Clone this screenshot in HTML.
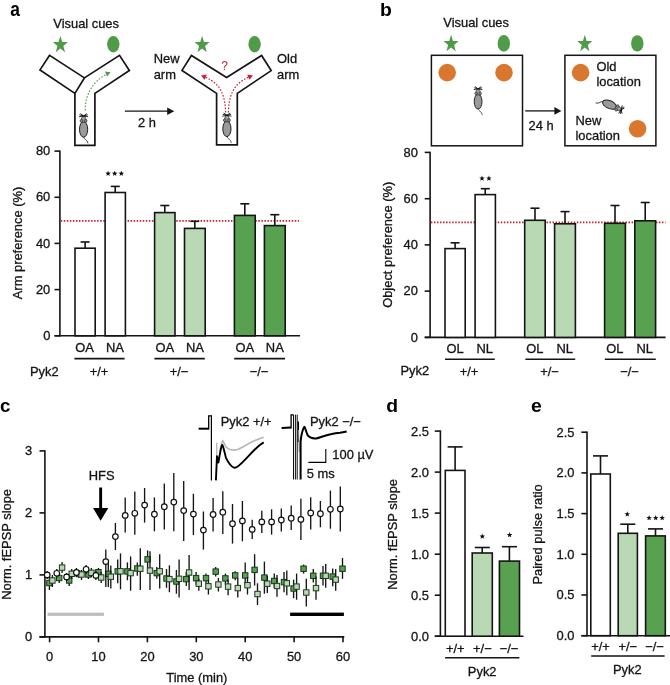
<!DOCTYPE html>
<html><head><meta charset="utf-8"><title>Figure</title>
<style>
html,body{margin:0;padding:0;background:#fff;}
body{width:670px;height:685px;overflow:hidden;}
svg{display:block;}
svg text{font-family:"Liberation Sans",sans-serif;stroke-width:0.3px;paint-order:stroke;}
</style></head><body>
<svg width="670" height="685" viewBox="0 0 670 685">
<rect width="670" height="685" fill="#fff"/>
<g style="will-change:opacity">
<text transform="translate(10.2,16.0) scale(0.86,1)" font-size="20.3" font-weight="bold" fill="#000">a</text>
<text transform="translate(380.1,15.7) scale(1.095,1)" font-size="17.7" font-weight="bold" fill="#000">b</text>
<text transform="translate(0.1,411.7) scale(1.0,1)" font-size="18.8" font-weight="bold" fill="#000">c</text>
<text transform="translate(386.3,411.5) scale(1.095,1)" font-size="17.7" font-weight="bold" fill="#000">d</text>
<text transform="translate(531.0,412.1) scale(1.03,1)" font-size="18.9" font-weight="bold" fill="#000">e</text>
<text x="53.3" y="27.6" font-size="12.9" text-anchor="start" font-weight="normal" fill="#141414" stroke="#141414" >Visual cues</text>
<polygon points="60.40,35.70 62.26,41.92 67.91,42.06 63.41,46.04 65.04,52.35 60.40,48.58 55.76,52.35 57.39,46.04 52.89,42.06 58.54,41.92" fill="#4f9b48"/>
<ellipse cx="113.3" cy="44.2" rx="6.2" ry="8.2" fill="#4f9b48" stroke="none" stroke-width="0"/>
<polygon points="202.10,35.70 203.96,41.92 209.61,42.06 205.11,46.04 206.74,52.35 202.10,48.58 197.46,52.35 199.09,46.04 194.59,42.06 200.24,41.92" fill="#4f9b48"/>
<ellipse cx="254.6" cy="44.2" rx="6.2" ry="8.2" fill="#4f9b48" stroke="none" stroke-width="0"/>
<polygon points="49.6,55.3 40.0,69.9 74.9,93.4 84.4,77.9" fill="#fff" stroke="#141414" stroke-width="1.7" stroke-linejoin="miter"/>
<polyline points="84.4,77.9 119.5,55.3 129.4,70.5 94.9,93.4 94.9,145.4 74.9,145.4 74.9,93.4" fill="none" stroke="#141414" stroke-width="1.7" stroke-linejoin="miter"/>
<path d="M85.2,110.5 C85.2,95 92,82 106,74.5" fill="none" stroke="#4f9b48" stroke-width="1.1" stroke-dasharray="1.6,1.6"/>
<polygon points="110.6,72.2 105.0,71.6 107.2,76.4" fill="#4f9b48"/>
<g transform="translate(83.6,129.4) rotate(0) scale(1.0)">
<path d="M0,7.5 C0.6,10.5 3.4,9.5 4.4,14" fill="none" stroke="#333" stroke-width="0.9"/>
<ellipse cx="0" cy="0" rx="4.1" ry="7.8" fill="#9a9a9a" stroke="#1c1c1c" stroke-width="1.0"/>
<path d="M-2.6,-7 C-2.8,-10 -1.6,-13 0,-14.4 C1.6,-13 2.8,-10 2.6,-7 Z" fill="#9c9c9c" stroke="#2a2a2a" stroke-width="0.7"/>
<circle cx="-2.1" cy="-8.6" r="1.4" fill="#8a8a8a" stroke="#2a2a2a" stroke-width="0.6"/>
<circle cx="2.1" cy="-8.6" r="1.4" fill="#8a8a8a" stroke="#2a2a2a" stroke-width="0.6"/>
<path d="M0,-13.4 L-4.6,-12.6 M0,-13.4 L-4.2,-14.6 M0,-13.4 L-3.2,-15.8" stroke="#111" stroke-width="0.9" fill="none"/>
<path d="M0,-13.4 L4.6,-12.6 M0,-13.4 L4.2,-14.6 M0,-13.4 L3.2,-15.8" stroke="#111" stroke-width="0.9" fill="none"/>
</g>
<polygon points="191.4,55.5 182.0,70.4 216.6,93.4 216.6,144.8 237.3,144.8 237.3,93.4 271.2,70.6 261.6,55.5 226.6,77.4" fill="#fff" stroke="#141414" stroke-width="1.7" stroke-linejoin="miter"/>
<path d="M225.6,112.5 C225.2,96 221,84 205.5,77.3" fill="none" stroke="#c9202e" stroke-width="1.2" stroke-dasharray="1.6,1.6"/>
<path d="M228.4,112.5 C228.8,96 233,84 248.5,77.3" fill="none" stroke="#c9202e" stroke-width="1.2" stroke-dasharray="1.6,1.6"/>
<polygon points="201.0,75.4 206.8,74.6 204.6,79.8" fill="#c9202e"/>
<polygon points="253.0,75.4 247.2,74.6 249.4,79.8" fill="#c9202e"/>
<text x="224.6" y="70.2" font-size="12" text-anchor="middle" font-weight="normal" fill="#c9202e" stroke="#c9202e" style="stroke-width:0">?</text>
<g transform="translate(226.9,128.8) rotate(0) scale(1.0)">
<path d="M0,7.5 C0.6,10.5 3.4,9.5 4.4,14" fill="none" stroke="#333" stroke-width="0.9"/>
<ellipse cx="0" cy="0" rx="4.1" ry="7.8" fill="#9a9a9a" stroke="#1c1c1c" stroke-width="1.0"/>
<path d="M-2.6,-7 C-2.8,-10 -1.6,-13 0,-14.4 C1.6,-13 2.8,-10 2.6,-7 Z" fill="#9c9c9c" stroke="#2a2a2a" stroke-width="0.7"/>
<circle cx="-2.1" cy="-8.6" r="1.4" fill="#8a8a8a" stroke="#2a2a2a" stroke-width="0.6"/>
<circle cx="2.1" cy="-8.6" r="1.4" fill="#8a8a8a" stroke="#2a2a2a" stroke-width="0.6"/>
<path d="M0,-13.4 L-4.6,-12.6 M0,-13.4 L-4.2,-14.6 M0,-13.4 L-3.2,-15.8" stroke="#111" stroke-width="0.9" fill="none"/>
<path d="M0,-13.4 L4.6,-12.6 M0,-13.4 L4.2,-14.6 M0,-13.4 L3.2,-15.8" stroke="#111" stroke-width="0.9" fill="none"/>
</g>
<text x="153.7" y="62.9" font-size="12.9" text-anchor="start" font-weight="normal" fill="#141414" stroke="#141414" >New</text>
<text x="153.7" y="78.7" font-size="12.9" text-anchor="start" font-weight="normal" fill="#141414" stroke="#141414" >arm</text>
<text x="277.0" y="63.2" font-size="12.9" text-anchor="start" font-weight="normal" fill="#141414" stroke="#141414" >Old</text>
<text x="277.0" y="78.6" font-size="12.9" text-anchor="start" font-weight="normal" fill="#141414" stroke="#141414" >arm</text>
<line x1="124.9" y1="111.2" x2="168.5" y2="111.2" stroke="#141414" stroke-width="1.3" />
<polygon points="174.2,111.2 167.2,107.4 167.2,115.0" fill="#141414"/>
<text x="137.9" y="127.2" font-size="12.9" text-anchor="start" font-weight="normal" fill="#141414" stroke="#141414" >2 h</text>
<line x1="59.9" y1="150.4" x2="59.9" y2="336.5" stroke="#141414" stroke-width="1.6" />
<line x1="54.5" y1="335.8" x2="300.0" y2="335.8" stroke="#141414" stroke-width="1.6" />
<line x1="54.5" y1="335.8" x2="59.9" y2="335.8" stroke="#141414" stroke-width="1.6" />
<text x="50.3" y="339.9" font-size="12.9" text-anchor="end" font-weight="normal" fill="#141414" stroke="#141414" >0</text>
<line x1="54.5" y1="289.6" x2="59.9" y2="289.6" stroke="#141414" stroke-width="1.6" />
<text x="50.3" y="293.7" font-size="12.9" text-anchor="end" font-weight="normal" fill="#141414" stroke="#141414" >20</text>
<line x1="54.5" y1="243.4" x2="59.9" y2="243.4" stroke="#141414" stroke-width="1.6" />
<text x="50.3" y="247.5" font-size="12.9" text-anchor="end" font-weight="normal" fill="#141414" stroke="#141414" >40</text>
<line x1="54.5" y1="197.3" x2="59.9" y2="197.3" stroke="#141414" stroke-width="1.6" />
<text x="50.3" y="201.4" font-size="12.9" text-anchor="end" font-weight="normal" fill="#141414" stroke="#141414" >60</text>
<line x1="54.5" y1="151.1" x2="59.9" y2="151.1" stroke="#141414" stroke-width="1.6" />
<text x="50.3" y="155.2" font-size="12.9" text-anchor="end" font-weight="normal" fill="#141414" stroke="#141414" >80</text>
<line x1="60.699999999999996" y1="220.9" x2="299" y2="220.9" stroke="#c21f36" stroke-width="1.7" stroke-dasharray="1.5,1.54"/>
<line x1="85.1" y1="242.0" x2="85.1" y2="248.2" stroke="#141414" stroke-width="1.6" />
<line x1="80.6" y1="242.0" x2="89.6" y2="242.0" stroke="#141414" stroke-width="1.6" />
<rect x="75.0" y="248.2" width="20.2" height="87.6" fill="#fff" stroke="#141414" stroke-width="1.6"/>
<line x1="115.2" y1="186.4" x2="115.2" y2="192.5" stroke="#141414" stroke-width="1.6" />
<line x1="110.8" y1="186.4" x2="119.8" y2="186.4" stroke="#141414" stroke-width="1.6" />
<rect x="105.1" y="192.5" width="20.3" height="143.3" fill="#fff" stroke="#141414" stroke-width="1.6"/>
<line x1="164.8" y1="205.5" x2="164.8" y2="212.6" stroke="#141414" stroke-width="1.6" />
<line x1="160.3" y1="205.5" x2="169.3" y2="205.5" stroke="#141414" stroke-width="1.6" />
<rect x="154.6" y="212.6" width="20.4" height="123.2" fill="#b9d9b4" stroke="#141414" stroke-width="1.6"/>
<line x1="194.8" y1="221.3" x2="194.8" y2="228.4" stroke="#141414" stroke-width="1.6" />
<line x1="190.3" y1="221.3" x2="199.3" y2="221.3" stroke="#141414" stroke-width="1.6" />
<rect x="184.5" y="228.4" width="20.7" height="107.4" fill="#b9d9b4" stroke="#141414" stroke-width="1.6"/>
<line x1="244.8" y1="203.8" x2="244.8" y2="215.4" stroke="#141414" stroke-width="1.6" />
<line x1="240.3" y1="203.8" x2="249.3" y2="203.8" stroke="#141414" stroke-width="1.6" />
<rect x="234.4" y="215.4" width="20.8" height="120.4" fill="#58a150" stroke="#141414" stroke-width="1.6"/>
<line x1="274.8" y1="214.7" x2="274.8" y2="225.6" stroke="#141414" stroke-width="1.6" />
<line x1="270.3" y1="214.7" x2="279.3" y2="214.7" stroke="#141414" stroke-width="1.6" />
<rect x="264.4" y="225.6" width="20.8" height="110.2" fill="#58a150" stroke="#141414" stroke-width="1.6"/>
<polygon points="108.10,170.70 108.83,172.59 110.86,172.70 109.29,173.99 109.80,175.95 108.10,174.85 106.40,175.95 106.91,173.99 105.34,172.70 107.37,172.59" fill="#111"/>
<polygon points="114.70,170.70 115.43,172.59 117.46,172.70 115.89,173.99 116.40,175.95 114.70,174.85 113.00,175.95 113.51,173.99 111.94,172.70 113.97,172.59" fill="#111"/>
<polygon points="121.30,170.70 122.03,172.59 124.06,172.70 122.49,173.99 123.00,175.95 121.30,174.85 119.60,175.95 120.11,173.99 118.54,172.70 120.57,172.59" fill="#111"/>
<text x="84.6" y="352.1" font-size="12.9" text-anchor="middle" font-weight="normal" fill="#141414" stroke="#141414" >OA</text>
<text x="115.0" y="352.1" font-size="12.9" text-anchor="middle" font-weight="normal" fill="#141414" stroke="#141414" >NA</text>
<text x="164.8" y="352.1" font-size="12.9" text-anchor="middle" font-weight="normal" fill="#141414" stroke="#141414" >OA</text>
<text x="194.9" y="352.1" font-size="12.9" text-anchor="middle" font-weight="normal" fill="#141414" stroke="#141414" >NA</text>
<text x="244.8" y="352.1" font-size="12.9" text-anchor="middle" font-weight="normal" fill="#141414" stroke="#141414" >OA</text>
<text x="274.8" y="352.1" font-size="12.9" text-anchor="middle" font-weight="normal" fill="#141414" stroke="#141414" >NA</text>
<line x1="74.4" y1="358.6" x2="124.6" y2="358.6" stroke="#141414" stroke-width="1.6" />
<text x="99.0" y="376.4" font-size="12.9" text-anchor="middle" font-weight="normal" fill="#141414" stroke="#141414" >+/+</text>
<line x1="154.4" y1="358.6" x2="204.8" y2="358.6" stroke="#141414" stroke-width="1.6" />
<text x="179.1" y="376.4" font-size="12.9" text-anchor="middle" font-weight="normal" fill="#141414" stroke="#141414" >+/−</text>
<line x1="234.2" y1="358.6" x2="285.0" y2="358.6" stroke="#141414" stroke-width="1.6" />
<text x="259.1" y="376.4" font-size="12.9" text-anchor="middle" font-weight="normal" fill="#141414" stroke="#141414" >−/−</text>
<text x="29.9" y="375.6" font-size="12.9" text-anchor="start" font-weight="normal" fill="#141414" stroke="#141414" >Pyk2</text>
<text transform="translate(21.9,243.0) rotate(-90)" font-size="12.9" text-anchor="middle" fill="#141414" stroke="#141414">Arm preference (%)</text>
<text x="443.3" y="27.0" font-size="12.9" text-anchor="start" font-weight="normal" fill="#141414" stroke="#141414" >Visual cues</text>
<polygon points="451.10,34.70 452.96,40.92 458.61,41.06 454.11,45.04 455.74,51.35 451.10,47.58 446.46,51.35 448.09,45.04 443.59,41.06 449.24,40.92" fill="#4f9b48"/>
<ellipse cx="503.8" cy="43.4" rx="6.2" ry="8.35" fill="#4f9b48" stroke="none" stroke-width="0"/>
<polygon points="584.80,34.70 586.66,40.92 592.31,41.06 587.81,45.04 589.44,51.35 584.80,47.58 580.16,51.35 581.79,45.04 577.29,41.06 582.94,40.92" fill="#4f9b48"/>
<ellipse cx="637.3" cy="43.4" rx="6.2" ry="8.2" fill="#4f9b48" stroke="none" stroke-width="0"/>
<rect x="431.4" y="55.3" width="91.1" height="90.5" fill="#fff" stroke="#141414" stroke-width="1.5"/>
<rect x="564.9" y="55.3" width="91.0" height="90.5" fill="#fff" stroke="#141414" stroke-width="1.5"/>
<circle cx="447.2" cy="72.6" r="8.8" fill="#d9772f"/>
<circle cx="504.0" cy="72.6" r="8.8" fill="#d9772f"/>
<circle cx="580.6" cy="72.6" r="8.8" fill="#d9772f"/>
<circle cx="637.6" cy="128.8" r="8.8" fill="#d9772f"/>
<g transform="translate(478.1,101.6) rotate(0) scale(0.95)">
<path d="M0,7.5 C0.6,10.5 3.4,9.5 4.4,14" fill="none" stroke="#333" stroke-width="0.9"/>
<ellipse cx="0" cy="0" rx="4.1" ry="7.8" fill="#9a9a9a" stroke="#1c1c1c" stroke-width="1.0"/>
<path d="M-2.6,-7 C-2.8,-10 -1.6,-13 0,-14.4 C1.6,-13 2.8,-10 2.6,-7 Z" fill="#9c9c9c" stroke="#2a2a2a" stroke-width="0.7"/>
<circle cx="-2.1" cy="-8.6" r="1.4" fill="#8a8a8a" stroke="#2a2a2a" stroke-width="0.6"/>
<circle cx="2.1" cy="-8.6" r="1.4" fill="#8a8a8a" stroke="#2a2a2a" stroke-width="0.6"/>
<path d="M0,-13.4 L-4.6,-12.6 M0,-13.4 L-4.2,-14.6 M0,-13.4 L-3.2,-15.8" stroke="#111" stroke-width="0.9" fill="none"/>
<path d="M0,-13.4 L4.6,-12.6 M0,-13.4 L4.2,-14.6 M0,-13.4 L3.2,-15.8" stroke="#111" stroke-width="0.9" fill="none"/>
</g>
<g transform="translate(609.5,104.6) rotate(114) scale(0.95)">
<path d="M0,7.5 C0.6,10.5 3.4,9.5 4.4,14" fill="none" stroke="#333" stroke-width="0.9"/>
<ellipse cx="0" cy="0" rx="4.1" ry="7.8" fill="#9a9a9a" stroke="#1c1c1c" stroke-width="1.0"/>
<path d="M-2.6,-7 C-2.8,-10 -1.6,-13 0,-14.4 C1.6,-13 2.8,-10 2.6,-7 Z" fill="#9c9c9c" stroke="#2a2a2a" stroke-width="0.7"/>
<circle cx="-2.1" cy="-8.6" r="1.4" fill="#8a8a8a" stroke="#2a2a2a" stroke-width="0.6"/>
<circle cx="2.1" cy="-8.6" r="1.4" fill="#8a8a8a" stroke="#2a2a2a" stroke-width="0.6"/>
<path d="M0,-13.4 L-4.6,-12.6 M0,-13.4 L-4.2,-14.6 M0,-13.4 L-3.2,-15.8" stroke="#111" stroke-width="0.9" fill="none"/>
<path d="M0,-13.4 L4.6,-12.6 M0,-13.4 L4.2,-14.6 M0,-13.4 L3.2,-15.8" stroke="#111" stroke-width="0.9" fill="none"/>
</g>
<line x1="525.2" y1="110.9" x2="556.0" y2="110.9" stroke="#141414" stroke-width="1.3" />
<polygon points="561.4,110.9 554.4,107.1 554.4,114.7" fill="#141414"/>
<text x="528.6" y="129.6" font-size="12.9" text-anchor="start" font-weight="normal" fill="#141414" stroke="#141414" >24 h</text>
<text x="596.4" y="70.5" font-size="12.9" text-anchor="start" font-weight="normal" fill="#141414" stroke="#141414" >Old</text>
<text x="596.4" y="86.0" font-size="12.9" text-anchor="start" font-weight="normal" fill="#141414" stroke="#141414" >location</text>
<text x="575.5" y="124.9" font-size="12.9" text-anchor="start" font-weight="normal" fill="#141414" stroke="#141414" >New</text>
<text x="575.5" y="140.0" font-size="12.9" text-anchor="start" font-weight="normal" fill="#141414" stroke="#141414" >location</text>
<line x1="430.1" y1="151.7" x2="430.1" y2="338.1" stroke="#141414" stroke-width="1.6" />
<line x1="424.7" y1="337.4" x2="665.6" y2="337.4" stroke="#141414" stroke-width="1.6" />
<line x1="424.7" y1="337.4" x2="430.1" y2="337.4" stroke="#141414" stroke-width="1.6" />
<text x="417.9" y="341.5" font-size="12.9" text-anchor="end" font-weight="normal" fill="#141414" stroke="#141414" >0</text>
<line x1="424.7" y1="291.1" x2="430.1" y2="291.1" stroke="#141414" stroke-width="1.6" />
<text x="417.9" y="295.2" font-size="12.9" text-anchor="end" font-weight="normal" fill="#141414" stroke="#141414" >20</text>
<line x1="424.7" y1="244.9" x2="430.1" y2="244.9" stroke="#141414" stroke-width="1.6" />
<text x="417.9" y="249.0" font-size="12.9" text-anchor="end" font-weight="normal" fill="#141414" stroke="#141414" >40</text>
<line x1="424.7" y1="198.7" x2="430.1" y2="198.7" stroke="#141414" stroke-width="1.6" />
<text x="417.9" y="202.8" font-size="12.9" text-anchor="end" font-weight="normal" fill="#141414" stroke="#141414" >60</text>
<line x1="424.7" y1="152.4" x2="430.1" y2="152.4" stroke="#141414" stroke-width="1.6" />
<text x="417.9" y="156.5" font-size="12.9" text-anchor="end" font-weight="normal" fill="#141414" stroke="#141414" >80</text>
<line x1="430.90000000000003" y1="222.3" x2="665.5" y2="222.3" stroke="#c21f36" stroke-width="1.7" stroke-dasharray="1.5,1.54"/>
<line x1="455.1" y1="242.8" x2="455.1" y2="248.6" stroke="#141414" stroke-width="1.6" />
<line x1="450.6" y1="242.8" x2="459.6" y2="242.8" stroke="#141414" stroke-width="1.6" />
<rect x="445.0" y="248.6" width="20.2" height="88.8" fill="#fff" stroke="#141414" stroke-width="1.6"/>
<line x1="485.2" y1="188.7" x2="485.2" y2="194.6" stroke="#141414" stroke-width="1.6" />
<line x1="480.8" y1="188.7" x2="489.8" y2="188.7" stroke="#141414" stroke-width="1.6" />
<rect x="475.1" y="194.6" width="20.3" height="142.8" fill="#fff" stroke="#141414" stroke-width="1.6"/>
<line x1="535.0" y1="208.2" x2="535.0" y2="220.3" stroke="#141414" stroke-width="1.6" />
<line x1="530.5" y1="208.2" x2="539.5" y2="208.2" stroke="#141414" stroke-width="1.6" />
<rect x="524.7" y="220.3" width="20.5" height="117.1" fill="#b9d9b4" stroke="#141414" stroke-width="1.6"/>
<line x1="565.0" y1="211.6" x2="565.0" y2="223.8" stroke="#141414" stroke-width="1.6" />
<line x1="560.5" y1="211.6" x2="569.5" y2="211.6" stroke="#141414" stroke-width="1.6" />
<rect x="554.6" y="223.8" width="20.8" height="113.6" fill="#b9d9b4" stroke="#141414" stroke-width="1.6"/>
<line x1="615.0" y1="205.5" x2="615.0" y2="223.3" stroke="#141414" stroke-width="1.6" />
<line x1="610.5" y1="205.5" x2="619.5" y2="205.5" stroke="#141414" stroke-width="1.6" />
<rect x="604.6" y="223.3" width="20.8" height="114.1" fill="#58a150" stroke="#141414" stroke-width="1.6"/>
<line x1="645.2" y1="202.5" x2="645.2" y2="220.8" stroke="#141414" stroke-width="1.6" />
<line x1="640.7" y1="202.5" x2="649.7" y2="202.5" stroke="#141414" stroke-width="1.6" />
<rect x="634.8" y="220.8" width="20.8" height="116.6" fill="#58a150" stroke="#141414" stroke-width="1.6"/>
<polygon points="482.00,175.50 482.73,177.39 484.76,177.50 483.19,178.79 483.70,180.75 482.00,179.65 480.30,180.75 480.81,178.79 479.24,177.50 481.27,177.39" fill="#111"/>
<polygon points="488.90,175.50 489.63,177.39 491.66,177.50 490.09,178.79 490.60,180.75 488.90,179.65 487.20,180.75 487.71,178.79 486.14,177.50 488.17,177.39" fill="#111"/>
<text x="455.0" y="353.4" font-size="12.9" text-anchor="middle" font-weight="normal" fill="#141414" stroke="#141414" >OL</text>
<text x="484.8" y="353.4" font-size="12.9" text-anchor="middle" font-weight="normal" fill="#141414" stroke="#141414" >NL</text>
<text x="534.8" y="353.4" font-size="12.9" text-anchor="middle" font-weight="normal" fill="#141414" stroke="#141414" >OL</text>
<text x="564.8" y="353.4" font-size="12.9" text-anchor="middle" font-weight="normal" fill="#141414" stroke="#141414" >NL</text>
<text x="614.8" y="353.4" font-size="12.9" text-anchor="middle" font-weight="normal" fill="#141414" stroke="#141414" >OL</text>
<text x="644.8" y="353.4" font-size="12.9" text-anchor="middle" font-weight="normal" fill="#141414" stroke="#141414" >NL</text>
<line x1="445.0" y1="359.2" x2="494.8" y2="359.2" stroke="#141414" stroke-width="1.6" />
<text x="469.1" y="375.9" font-size="12.9" text-anchor="middle" font-weight="normal" fill="#141414" stroke="#141414" >+/+</text>
<line x1="525.4" y1="359.2" x2="575.2" y2="359.2" stroke="#141414" stroke-width="1.6" />
<text x="549.5" y="375.9" font-size="12.9" text-anchor="middle" font-weight="normal" fill="#141414" stroke="#141414" >+/−</text>
<line x1="604.8" y1="359.2" x2="655.8" y2="359.2" stroke="#141414" stroke-width="1.6" />
<text x="629.5" y="375.9" font-size="12.9" text-anchor="middle" font-weight="normal" fill="#141414" stroke="#141414" >−/−</text>
<text x="400.5" y="374.9" font-size="12.9" text-anchor="start" font-weight="normal" fill="#141414" stroke="#141414" >Pyk2</text>
<text transform="translate(392.0,244.8) rotate(-90)" font-size="12.9" text-anchor="middle" fill="#141414" stroke="#141414">Object preference (%)</text>
<line x1="44.9" y1="450.2" x2="44.9" y2="637.6" stroke="#141414" stroke-width="1.6" />
<line x1="39.5" y1="636.9" x2="344.3" y2="636.9" stroke="#141414" stroke-width="1.6" />
<line x1="39.5" y1="636.9" x2="44.9" y2="636.9" stroke="#141414" stroke-width="1.6" />
<text x="32.2" y="641.3" font-size="12.9" text-anchor="end" font-weight="normal" fill="#141414" stroke="#141414" >0</text>
<line x1="39.5" y1="574.9" x2="44.9" y2="574.9" stroke="#141414" stroke-width="1.6" />
<text x="32.2" y="579.3" font-size="12.9" text-anchor="end" font-weight="normal" fill="#141414" stroke="#141414" >1</text>
<line x1="39.5" y1="512.9" x2="44.9" y2="512.9" stroke="#141414" stroke-width="1.6" />
<text x="32.2" y="517.3" font-size="12.9" text-anchor="end" font-weight="normal" fill="#141414" stroke="#141414" >2</text>
<line x1="39.5" y1="450.9" x2="44.9" y2="450.9" stroke="#141414" stroke-width="1.6" />
<text x="32.2" y="455.3" font-size="12.9" text-anchor="end" font-weight="normal" fill="#141414" stroke="#141414" >3</text>
<line x1="49.6" y1="636.9" x2="49.6" y2="642.3" stroke="#141414" stroke-width="1.6" />
<text x="49.6" y="660.6" font-size="12.9" text-anchor="middle" font-weight="normal" fill="#141414" stroke="#141414" >0</text>
<line x1="98.5" y1="636.9" x2="98.5" y2="642.3" stroke="#141414" stroke-width="1.6" />
<text x="98.5" y="660.6" font-size="12.9" text-anchor="middle" font-weight="normal" fill="#141414" stroke="#141414" >10</text>
<line x1="147.4" y1="636.9" x2="147.4" y2="642.3" stroke="#141414" stroke-width="1.6" />
<text x="147.4" y="660.6" font-size="12.9" text-anchor="middle" font-weight="normal" fill="#141414" stroke="#141414" >20</text>
<line x1="196.3" y1="636.9" x2="196.3" y2="642.3" stroke="#141414" stroke-width="1.6" />
<text x="196.3" y="660.6" font-size="12.9" text-anchor="middle" font-weight="normal" fill="#141414" stroke="#141414" >30</text>
<line x1="245.2" y1="636.9" x2="245.2" y2="642.3" stroke="#141414" stroke-width="1.6" />
<text x="245.2" y="660.6" font-size="12.9" text-anchor="middle" font-weight="normal" fill="#141414" stroke="#141414" >40</text>
<line x1="294.1" y1="636.9" x2="294.1" y2="642.3" stroke="#141414" stroke-width="1.6" />
<text x="294.1" y="660.6" font-size="12.9" text-anchor="middle" font-weight="normal" fill="#141414" stroke="#141414" >50</text>
<line x1="343.0" y1="636.9" x2="343.0" y2="642.3" stroke="#141414" stroke-width="1.6" />
<text x="343.0" y="660.6" font-size="12.9" text-anchor="middle" font-weight="normal" fill="#141414" stroke="#141414" >60</text>
<text x="196.8" y="682.0" font-size="12.9" text-anchor="middle" font-weight="normal" fill="#141414" stroke="#141414" >Time (min)</text>
<text transform="translate(11.0,544.4) rotate(-90)" font-size="12.9" text-anchor="middle" fill="#141414" stroke="#141414">Norm. fEPSP slope</text>
<rect x="47.5" y="612.7" width="56.4" height="3.2" fill="#bdbdbd"/>
<rect x="290.1" y="612.6" width="53.8" height="3.4" fill="#000"/>
<text x="101.7" y="479.5" font-size="12.9" text-anchor="middle" font-weight="normal" fill="#141414" stroke="#141414" >HFS</text>
<rect x="99.2" y="487.5" width="2.9" height="21.5" fill="#000"/>
<polygon points="93.0,508.0 108.3,508.0 100.65,520.8" fill="#000"/>
<line x1="49.4" y1="576.0" x2="49.4" y2="590.0" stroke="#151515" stroke-width="1.35" />
<rect x="46.7" y="580.3" width="5.4" height="5.4" fill="#58a150" stroke="#17331a" stroke-width="1.0"/>
<line x1="59.2" y1="573.0" x2="59.2" y2="583.0" stroke="#151515" stroke-width="1.35" />
<rect x="56.5" y="575.3" width="5.4" height="5.4" fill="#58a150" stroke="#17331a" stroke-width="1.0"/>
<line x1="69.2" y1="575.0" x2="69.2" y2="586.0" stroke="#151515" stroke-width="1.35" />
<rect x="66.5" y="577.8" width="5.4" height="5.4" fill="#58a150" stroke="#17331a" stroke-width="1.0"/>
<line x1="79.0" y1="570.0" x2="79.0" y2="578.0" stroke="#151515" stroke-width="1.35" />
<rect x="76.3" y="571.3" width="5.4" height="5.4" fill="#58a150" stroke="#17331a" stroke-width="1.0"/>
<line x1="88.4" y1="570.0" x2="88.4" y2="579.0" stroke="#151515" stroke-width="1.35" />
<rect x="85.7" y="571.8" width="5.4" height="5.4" fill="#58a150" stroke="#17331a" stroke-width="1.0"/>
<line x1="98.4" y1="568.0" x2="98.4" y2="577.0" stroke="#151515" stroke-width="1.35" />
<rect x="95.7" y="569.5" width="5.4" height="5.4" fill="#58a150" stroke="#17331a" stroke-width="1.0"/>
<line x1="108.3" y1="562.4" x2="108.3" y2="587.0" stroke="#151515" stroke-width="1.35" />
<rect x="105.6" y="571.1" width="5.4" height="5.4" fill="#58a150" stroke="#17331a" stroke-width="1.0"/>
<line x1="117.7" y1="559.4" x2="117.7" y2="583.3" stroke="#151515" stroke-width="1.35" />
<rect x="115.0" y="568.7" width="5.4" height="5.4" fill="#58a150" stroke="#17331a" stroke-width="1.0"/>
<line x1="127.4" y1="562.4" x2="127.4" y2="580.3" stroke="#151515" stroke-width="1.35" />
<rect x="124.7" y="568.7" width="5.4" height="5.4" fill="#58a150" stroke="#17331a" stroke-width="1.0"/>
<line x1="137.3" y1="562.4" x2="137.3" y2="575.8" stroke="#151515" stroke-width="1.35" />
<rect x="134.6" y="565.8" width="5.4" height="5.4" fill="#58a150" stroke="#17331a" stroke-width="1.0"/>
<line x1="147.6" y1="550.4" x2="147.6" y2="568.4" stroke="#151515" stroke-width="1.35" />
<rect x="144.9" y="556.7" width="5.4" height="5.4" fill="#58a150" stroke="#17331a" stroke-width="1.0"/>
<line x1="156.8" y1="566.9" x2="156.8" y2="578.8" stroke="#151515" stroke-width="1.35" />
<rect x="154.1" y="570.4" width="5.4" height="5.4" fill="#58a150" stroke="#17331a" stroke-width="1.0"/>
<line x1="166.5" y1="569.1" x2="166.5" y2="587.8" stroke="#151515" stroke-width="1.35" />
<rect x="163.8" y="575.8" width="5.4" height="5.4" fill="#58a150" stroke="#17331a" stroke-width="1.0"/>
<line x1="176.4" y1="569.9" x2="176.4" y2="593.7" stroke="#151515" stroke-width="1.35" />
<rect x="173.7" y="578.8" width="5.4" height="5.4" fill="#58a150" stroke="#17331a" stroke-width="1.0"/>
<line x1="186.3" y1="572.0" x2="186.3" y2="586.0" stroke="#151515" stroke-width="1.35" />
<rect x="183.6" y="576.4" width="5.4" height="5.4" fill="#58a150" stroke="#17331a" stroke-width="1.0"/>
<line x1="196.1" y1="572.0" x2="196.1" y2="584.8" stroke="#151515" stroke-width="1.35" />
<rect x="193.4" y="575.4" width="5.4" height="5.4" fill="#58a150" stroke="#17331a" stroke-width="1.0"/>
<line x1="206.0" y1="573.6" x2="206.0" y2="583.3" stroke="#151515" stroke-width="1.35" />
<rect x="203.3" y="575.4" width="5.4" height="5.4" fill="#58a150" stroke="#17331a" stroke-width="1.0"/>
<line x1="215.7" y1="566.9" x2="215.7" y2="576.6" stroke="#151515" stroke-width="1.35" />
<rect x="213.0" y="568.9" width="5.4" height="5.4" fill="#58a150" stroke="#17331a" stroke-width="1.0"/>
<line x1="225.4" y1="573.6" x2="225.4" y2="584.8" stroke="#151515" stroke-width="1.35" />
<rect x="222.7" y="575.7" width="5.4" height="5.4" fill="#58a150" stroke="#17331a" stroke-width="1.0"/>
<line x1="235.2" y1="571.3" x2="235.2" y2="580.3" stroke="#151515" stroke-width="1.35" />
<rect x="232.5" y="572.7" width="5.4" height="5.4" fill="#58a150" stroke="#17331a" stroke-width="1.0"/>
<line x1="245.2" y1="562.4" x2="245.2" y2="584.8" stroke="#151515" stroke-width="1.35" />
<rect x="242.5" y="572.7" width="5.4" height="5.4" fill="#58a150" stroke="#17331a" stroke-width="1.0"/>
<line x1="254.6" y1="554.2" x2="254.6" y2="585.5" stroke="#151515" stroke-width="1.35" />
<rect x="251.9" y="567.2" width="5.4" height="5.4" fill="#58a150" stroke="#17331a" stroke-width="1.0"/>
<line x1="264.4" y1="561.6" x2="264.4" y2="593.7" stroke="#151515" stroke-width="1.35" />
<rect x="261.7" y="574.9" width="5.4" height="5.4" fill="#58a150" stroke="#17331a" stroke-width="1.0"/>
<line x1="274.3" y1="573.6" x2="274.3" y2="587.8" stroke="#151515" stroke-width="1.35" />
<rect x="271.6" y="578.3" width="5.4" height="5.4" fill="#58a150" stroke="#17331a" stroke-width="1.0"/>
<line x1="284.0" y1="572.1" x2="284.0" y2="592.2" stroke="#151515" stroke-width="1.35" />
<rect x="281.3" y="579.4" width="5.4" height="5.4" fill="#58a150" stroke="#17331a" stroke-width="1.0"/>
<line x1="293.6" y1="579.6" x2="293.6" y2="598.2" stroke="#151515" stroke-width="1.35" />
<rect x="290.9" y="585.8" width="5.4" height="5.4" fill="#58a150" stroke="#17331a" stroke-width="1.0"/>
<line x1="303.6" y1="564.6" x2="303.6" y2="573.6" stroke="#151515" stroke-width="1.35" />
<rect x="300.9" y="566.0" width="5.4" height="5.4" fill="#58a150" stroke="#17331a" stroke-width="1.0"/>
<line x1="313.3" y1="569.1" x2="313.3" y2="582.5" stroke="#151515" stroke-width="1.35" />
<rect x="310.6" y="573.1" width="5.4" height="5.4" fill="#58a150" stroke="#17331a" stroke-width="1.0"/>
<line x1="323.0" y1="566.1" x2="323.0" y2="585.5" stroke="#151515" stroke-width="1.35" />
<rect x="320.3" y="573.1" width="5.4" height="5.4" fill="#58a150" stroke="#17331a" stroke-width="1.0"/>
<line x1="332.7" y1="568.4" x2="332.7" y2="586.3" stroke="#151515" stroke-width="1.35" />
<rect x="330.0" y="573.9" width="5.4" height="5.4" fill="#58a150" stroke="#17331a" stroke-width="1.0"/>
<line x1="342.5" y1="557.9" x2="342.5" y2="578.8" stroke="#151515" stroke-width="1.35" />
<rect x="339.8" y="566.0" width="5.4" height="5.4" fill="#58a150" stroke="#17331a" stroke-width="1.0"/>
<line x1="52.4" y1="575.0" x2="52.4" y2="587.0" stroke="#151515" stroke-width="1.35" />
<rect x="49.7" y="577.8" width="5.4" height="5.4" fill="#b9d9b4" stroke="#1f3a20" stroke-width="1.0"/>
<line x1="62.1" y1="562.0" x2="62.1" y2="573.0" stroke="#151515" stroke-width="1.35" />
<rect x="59.4" y="564.9" width="5.4" height="5.4" fill="#b9d9b4" stroke="#1f3a20" stroke-width="1.0"/>
<line x1="71.7" y1="569.0" x2="71.7" y2="579.0" stroke="#151515" stroke-width="1.35" />
<rect x="69.0" y="571.1" width="5.4" height="5.4" fill="#b9d9b4" stroke="#1f3a20" stroke-width="1.0"/>
<line x1="81.5" y1="570.0" x2="81.5" y2="580.0" stroke="#151515" stroke-width="1.35" />
<rect x="78.8" y="571.8" width="5.4" height="5.4" fill="#b9d9b4" stroke="#1f3a20" stroke-width="1.0"/>
<line x1="91.4" y1="568.0" x2="91.4" y2="577.0" stroke="#151515" stroke-width="1.35" />
<rect x="88.7" y="570.1" width="5.4" height="5.4" fill="#b9d9b4" stroke="#1f3a20" stroke-width="1.0"/>
<line x1="101.2" y1="572.0" x2="101.2" y2="583.0" stroke="#151515" stroke-width="1.35" />
<rect x="98.5" y="574.8" width="5.4" height="5.4" fill="#b9d9b4" stroke="#1f3a20" stroke-width="1.0"/>
<line x1="110.8" y1="565.4" x2="110.8" y2="588.5" stroke="#151515" stroke-width="1.35" />
<rect x="108.1" y="574.0" width="5.4" height="5.4" fill="#b9d9b4" stroke="#1f3a20" stroke-width="1.0"/>
<line x1="120.5" y1="553.4" x2="120.5" y2="589.3" stroke="#151515" stroke-width="1.35" />
<rect x="117.8" y="568.6" width="5.4" height="5.4" fill="#b9d9b4" stroke="#1f3a20" stroke-width="1.0"/>
<line x1="130.6" y1="556.4" x2="130.6" y2="590.7" stroke="#151515" stroke-width="1.35" />
<rect x="127.9" y="570.4" width="5.4" height="5.4" fill="#b9d9b4" stroke="#1f3a20" stroke-width="1.0"/>
<line x1="140.3" y1="548.2" x2="140.3" y2="590.0" stroke="#151515" stroke-width="1.35" />
<rect x="137.6" y="566.0" width="5.4" height="5.4" fill="#b9d9b4" stroke="#1f3a20" stroke-width="1.0"/>
<line x1="150.0" y1="551.2" x2="150.0" y2="590.0" stroke="#151515" stroke-width="1.35" />
<rect x="147.3" y="567.9" width="5.4" height="5.4" fill="#b9d9b4" stroke="#1f3a20" stroke-width="1.0"/>
<line x1="159.7" y1="554.2" x2="159.7" y2="588.5" stroke="#151515" stroke-width="1.35" />
<rect x="157.0" y="568.6" width="5.4" height="5.4" fill="#b9d9b4" stroke="#1f3a20" stroke-width="1.0"/>
<line x1="169.4" y1="565.4" x2="169.4" y2="592.2" stroke="#151515" stroke-width="1.35" />
<rect x="166.7" y="576.4" width="5.4" height="5.4" fill="#b9d9b4" stroke="#1f3a20" stroke-width="1.0"/>
<line x1="179.1" y1="559.4" x2="179.1" y2="597.5" stroke="#151515" stroke-width="1.35" />
<rect x="176.4" y="576.1" width="5.4" height="5.4" fill="#b9d9b4" stroke="#1f3a20" stroke-width="1.0"/>
<line x1="189.1" y1="555.0" x2="189.1" y2="590.0" stroke="#151515" stroke-width="1.35" />
<rect x="186.4" y="569.8" width="5.4" height="5.4" fill="#b9d9b4" stroke="#1f3a20" stroke-width="1.0"/>
<line x1="198.8" y1="578.8" x2="198.8" y2="590.7" stroke="#151515" stroke-width="1.35" />
<rect x="196.1" y="581.0" width="5.4" height="5.4" fill="#b9d9b4" stroke="#1f3a20" stroke-width="1.0"/>
<line x1="208.4" y1="580.3" x2="208.4" y2="594.5" stroke="#151515" stroke-width="1.35" />
<rect x="205.7" y="583.6" width="5.4" height="5.4" fill="#b9d9b4" stroke="#1f3a20" stroke-width="1.0"/>
<line x1="218.4" y1="578.1" x2="218.4" y2="591.5" stroke="#151515" stroke-width="1.35" />
<rect x="215.7" y="581.8" width="5.4" height="5.4" fill="#b9d9b4" stroke="#1f3a20" stroke-width="1.0"/>
<line x1="228.1" y1="579.6" x2="228.1" y2="595.2" stroke="#151515" stroke-width="1.35" />
<rect x="225.4" y="583.9" width="5.4" height="5.4" fill="#b9d9b4" stroke="#1f3a20" stroke-width="1.0"/>
<line x1="237.8" y1="578.1" x2="237.8" y2="597.5" stroke="#151515" stroke-width="1.35" />
<rect x="235.1" y="585.4" width="5.4" height="5.4" fill="#b9d9b4" stroke="#1f3a20" stroke-width="1.0"/>
<line x1="247.5" y1="577.3" x2="247.5" y2="594.5" stroke="#151515" stroke-width="1.35" />
<rect x="244.8" y="582.5" width="5.4" height="5.4" fill="#b9d9b4" stroke="#1f3a20" stroke-width="1.0"/>
<line x1="257.5" y1="583.3" x2="257.5" y2="605.0" stroke="#151515" stroke-width="1.35" />
<rect x="254.8" y="591.3" width="5.4" height="5.4" fill="#b9d9b4" stroke="#1f3a20" stroke-width="1.0"/>
<line x1="267.3" y1="575.8" x2="267.3" y2="593.0" stroke="#151515" stroke-width="1.35" />
<rect x="264.6" y="581.0" width="5.4" height="5.4" fill="#b9d9b4" stroke="#1f3a20" stroke-width="1.0"/>
<line x1="277.0" y1="575.1" x2="277.0" y2="596.7" stroke="#151515" stroke-width="1.35" />
<rect x="274.3" y="583.3" width="5.4" height="5.4" fill="#b9d9b4" stroke="#1f3a20" stroke-width="1.0"/>
<line x1="286.8" y1="570.6" x2="286.8" y2="595.2" stroke="#151515" stroke-width="1.35" />
<rect x="284.1" y="580.6" width="5.4" height="5.4" fill="#b9d9b4" stroke="#1f3a20" stroke-width="1.0"/>
<line x1="296.6" y1="573.6" x2="296.6" y2="599.7" stroke="#151515" stroke-width="1.35" />
<rect x="293.9" y="583.9" width="5.4" height="5.4" fill="#b9d9b4" stroke="#1f3a20" stroke-width="1.0"/>
<line x1="306.3" y1="578.8" x2="306.3" y2="606.4" stroke="#151515" stroke-width="1.35" />
<rect x="303.6" y="589.8" width="5.4" height="5.4" fill="#b9d9b4" stroke="#1f3a20" stroke-width="1.0"/>
<line x1="316.0" y1="576.6" x2="316.0" y2="599.7" stroke="#151515" stroke-width="1.35" />
<rect x="313.3" y="585.4" width="5.4" height="5.4" fill="#b9d9b4" stroke="#1f3a20" stroke-width="1.0"/>
<line x1="325.7" y1="563.9" x2="325.7" y2="587.8" stroke="#151515" stroke-width="1.35" />
<rect x="323.0" y="573.1" width="5.4" height="5.4" fill="#b9d9b4" stroke="#1f3a20" stroke-width="1.0"/>
<line x1="335.7" y1="569.1" x2="335.7" y2="590.7" stroke="#151515" stroke-width="1.35" />
<rect x="333.0" y="576.9" width="5.4" height="5.4" fill="#b9d9b4" stroke="#1f3a20" stroke-width="1.0"/>
<line x1="47.2" y1="571.0" x2="47.2" y2="579.0" stroke="#151515" stroke-width="1.35" />
<circle cx="47.2" cy="574.9" r="2.8" fill="#fff" stroke="#111" stroke-width="1.2"/>
<line x1="56.8" y1="569.0" x2="56.8" y2="577.5" stroke="#151515" stroke-width="1.35" />
<circle cx="56.8" cy="573.3" r="2.8" fill="#fff" stroke="#111" stroke-width="1.2"/>
<line x1="66.6" y1="573.0" x2="66.6" y2="581.0" stroke="#151515" stroke-width="1.35" />
<circle cx="66.6" cy="577.0" r="2.8" fill="#fff" stroke="#111" stroke-width="1.2"/>
<line x1="76.4" y1="568.0" x2="76.4" y2="577.0" stroke="#151515" stroke-width="1.35" />
<circle cx="76.4" cy="572.5" r="2.8" fill="#fff" stroke="#111" stroke-width="1.2"/>
<line x1="86.1" y1="565.0" x2="86.1" y2="574.0" stroke="#151515" stroke-width="1.35" />
<circle cx="86.1" cy="569.3" r="2.8" fill="#fff" stroke="#111" stroke-width="1.2"/>
<line x1="95.9" y1="571.0" x2="95.9" y2="580.0" stroke="#151515" stroke-width="1.35" />
<circle cx="95.9" cy="575.4" r="2.8" fill="#fff" stroke="#111" stroke-width="1.2"/>
<line x1="105.8" y1="549.5" x2="105.8" y2="587.0" stroke="#151515" stroke-width="1.35" />
<circle cx="105.8" cy="561.6" r="2.8" fill="#fff" stroke="#111" stroke-width="1.2"/>
<line x1="115.4" y1="523.0" x2="115.4" y2="550.0" stroke="#151515" stroke-width="1.35" />
<circle cx="115.4" cy="536.6" r="2.8" fill="#fff" stroke="#111" stroke-width="1.2"/>
<line x1="125.2" y1="497.4" x2="125.2" y2="532.4" stroke="#151515" stroke-width="1.35" />
<circle cx="125.2" cy="515.4" r="2.8" fill="#fff" stroke="#111" stroke-width="1.2"/>
<line x1="134.8" y1="491.5" x2="134.8" y2="534.8" stroke="#151515" stroke-width="1.35" />
<circle cx="134.8" cy="513.3" r="2.8" fill="#fff" stroke="#111" stroke-width="1.2"/>
<line x1="144.6" y1="488.0" x2="144.6" y2="522.6" stroke="#151515" stroke-width="1.35" />
<circle cx="144.6" cy="505.1" r="2.8" fill="#fff" stroke="#111" stroke-width="1.2"/>
<line x1="154.4" y1="497.4" x2="154.4" y2="531.3" stroke="#151515" stroke-width="1.35" />
<circle cx="154.4" cy="514.2" r="2.8" fill="#fff" stroke="#111" stroke-width="1.2"/>
<line x1="164.3" y1="483.4" x2="164.3" y2="529.6" stroke="#151515" stroke-width="1.35" />
<circle cx="164.3" cy="506.7" r="2.8" fill="#fff" stroke="#111" stroke-width="1.2"/>
<line x1="173.8" y1="472.9" x2="173.8" y2="531.3" stroke="#151515" stroke-width="1.35" />
<circle cx="173.8" cy="502.1" r="2.8" fill="#fff" stroke="#111" stroke-width="1.2"/>
<line x1="183.7" y1="481.0" x2="183.7" y2="541.0" stroke="#151515" stroke-width="1.35" />
<circle cx="183.7" cy="510.6" r="2.8" fill="#fff" stroke="#111" stroke-width="1.2"/>
<line x1="193.4" y1="493.7" x2="193.4" y2="535.1" stroke="#151515" stroke-width="1.35" />
<circle cx="193.4" cy="514.1" r="2.8" fill="#fff" stroke="#111" stroke-width="1.2"/>
<line x1="203.4" y1="511.5" x2="203.4" y2="549.6" stroke="#151515" stroke-width="1.35" />
<circle cx="203.4" cy="530.1" r="2.8" fill="#fff" stroke="#111" stroke-width="1.2"/>
<line x1="213.1" y1="498.0" x2="213.1" y2="531.6" stroke="#151515" stroke-width="1.35" />
<circle cx="213.1" cy="514.5" r="2.8" fill="#fff" stroke="#111" stroke-width="1.2"/>
<line x1="222.8" y1="491.3" x2="222.8" y2="533.9" stroke="#151515" stroke-width="1.35" />
<circle cx="222.8" cy="512.2" r="2.8" fill="#fff" stroke="#111" stroke-width="1.2"/>
<line x1="232.5" y1="504.0" x2="232.5" y2="543.6" stroke="#151515" stroke-width="1.35" />
<circle cx="232.5" cy="523.7" r="2.8" fill="#fff" stroke="#111" stroke-width="1.2"/>
<line x1="242.4" y1="501.0" x2="242.4" y2="541.3" stroke="#151515" stroke-width="1.35" />
<circle cx="242.4" cy="520.9" r="2.8" fill="#fff" stroke="#111" stroke-width="1.2"/>
<line x1="252.2" y1="519.7" x2="252.2" y2="539.1" stroke="#151515" stroke-width="1.35" />
<circle cx="252.2" cy="529.4" r="2.8" fill="#fff" stroke="#111" stroke-width="1.2"/>
<line x1="261.8" y1="510.7" x2="261.8" y2="533.1" stroke="#151515" stroke-width="1.35" />
<circle cx="261.8" cy="521.9" r="2.8" fill="#fff" stroke="#111" stroke-width="1.2"/>
<line x1="271.6" y1="509.3" x2="271.6" y2="534.6" stroke="#151515" stroke-width="1.35" />
<circle cx="271.6" cy="521.9" r="2.8" fill="#fff" stroke="#111" stroke-width="1.2"/>
<line x1="281.3" y1="508.5" x2="281.3" y2="531.6" stroke="#151515" stroke-width="1.35" />
<circle cx="281.3" cy="520.0" r="2.8" fill="#fff" stroke="#111" stroke-width="1.2"/>
<line x1="291.2" y1="505.5" x2="291.2" y2="530.1" stroke="#151515" stroke-width="1.35" />
<circle cx="291.2" cy="518.2" r="2.8" fill="#fff" stroke="#111" stroke-width="1.2"/>
<line x1="300.9" y1="498.8" x2="300.9" y2="539.9" stroke="#151515" stroke-width="1.35" />
<circle cx="300.9" cy="519.4" r="2.8" fill="#fff" stroke="#111" stroke-width="1.2"/>
<line x1="310.7" y1="497.3" x2="310.7" y2="529.4" stroke="#151515" stroke-width="1.35" />
<circle cx="310.7" cy="513.0" r="2.8" fill="#fff" stroke="#111" stroke-width="1.2"/>
<line x1="320.4" y1="501.0" x2="320.4" y2="527.2" stroke="#151515" stroke-width="1.35" />
<circle cx="320.4" cy="513.7" r="2.8" fill="#fff" stroke="#111" stroke-width="1.2"/>
<line x1="330.4" y1="490.6" x2="330.4" y2="528.7" stroke="#151515" stroke-width="1.35" />
<circle cx="330.4" cy="509.3" r="2.8" fill="#fff" stroke="#111" stroke-width="1.2"/>
<line x1="340.3" y1="486.6" x2="340.3" y2="531.6" stroke="#151515" stroke-width="1.35" />
<circle cx="340.3" cy="509.0" r="2.8" fill="#fff" stroke="#111" stroke-width="1.2"/>
<path d="M198.6,428.7 L208.7,428.7" fill="none" stroke="#000" stroke-width="2.0"/>
<path d="M208.7,429.5 L208.7,415.8 L211.4,415.8" fill="none" stroke="#000" stroke-width="1.3"/>
<line x1="211.4" y1="415.2" x2="211.4" y2="480.4" stroke="#000" stroke-width="1.2" />
<path d="M216.7,456 L216.7,442.8" fill="none" stroke="#b8b8b8" stroke-width="1.4"/>
<path d="M219.5,452 C220.8,446 221.8,441.5 222.7,440.6 C223.8,441.5 224.6,444.6 226,447 C229,449.8 233,450.4 236.2,450 C241,448.6 246,445 251.1,442.2 C256,440 260,438.4 263.7,437.2" fill="none" stroke="#b8b8b8" stroke-width="1.6"/>
<path d="M215.9,480.4 L217.0,456.2 L218.4,462.5 C219.6,456 221,446 222.2,444.8 C223.6,447 224.6,453 226,457.8 C228,462 231,466.6 234.4,467.8 C237,468 241,464 245.1,459.6 C249,455.5 254,450 259.5,445.2 L263.7,442.4" fill="none" stroke="#000" stroke-width="1.9" stroke-linejoin="round"/>
<text x="220.7" y="425.5" font-size="12.9" text-anchor="start" font-weight="normal" fill="#141414" stroke="#141414" >Pyk2 +/+</text>
<path d="M281.6,428 L291.1,427.6" fill="none" stroke="#000" stroke-width="2.0"/>
<path d="M291.1,428.4 L291.1,414.9 L293.3,414.9" fill="none" stroke="#000" stroke-width="1.3"/>
<line x1="293.5" y1="414.6" x2="293.5" y2="479.5" stroke="#000" stroke-width="0.95" />
<line x1="295.4" y1="414.6" x2="295.4" y2="479.5" stroke="#000" stroke-width="0.95" />
<line x1="297.2" y1="414.6" x2="297.2" y2="479.5" stroke="#000" stroke-width="0.95" />
<path d="M298.3,421.5 L298.3,442" stroke="#000" stroke-width="1.4" fill="none"/>
<path d="M298.6,430 L299.2,452" stroke="#999" stroke-width="1.0" fill="none"/>
<path d="M300.6,479.5 L300.6,442 C300.9,436 303,428 304.5,426.8 C305.6,428.5 306.4,433 307.9,435.7 C309.5,437.6 313,438.6 316.2,438.4 C319,438 321,437 323.4,436.3 C327,435.2 330,434.2 331.7,433.9 C335,433.2 338,432.9 340.1,432.7 L346.7,431.6" fill="none" stroke="#000" stroke-width="2.0" stroke-linejoin="round"/>
<text x="310.0" y="425.5" font-size="12.9" text-anchor="start" font-weight="normal" fill="#141414" stroke="#141414" >Pyk2 −/−</text>
<path d="M325.8,449 L325.8,462.4 L308.4,462.4" fill="none" stroke="#000" stroke-width="1.1"/>
<text x="332.3" y="459.2" font-size="12.9" text-anchor="start" font-weight="normal" fill="#141414" stroke="#141414" >100 µV</text>
<text x="306.7" y="478.0" font-size="12.9" text-anchor="start" font-weight="normal" fill="#141414" stroke="#141414" >5 ms</text>
<line x1="440.4" y1="430.4" x2="440.4" y2="636.9" stroke="#141414" stroke-width="1.6" />
<line x1="434.8" y1="636.2" x2="523.5" y2="636.2" stroke="#141414" stroke-width="1.6" />
<line x1="434.8" y1="636.2" x2="440.4" y2="636.2" stroke="#141414" stroke-width="1.6" />
<text x="428.9" y="640.6" font-size="12.9" text-anchor="end" font-weight="normal" fill="#141414" stroke="#141414" >0.0</text>
<line x1="434.8" y1="595.2" x2="440.4" y2="595.2" stroke="#141414" stroke-width="1.6" />
<text x="428.9" y="599.6" font-size="12.9" text-anchor="end" font-weight="normal" fill="#141414" stroke="#141414" >0.5</text>
<line x1="434.8" y1="554.2" x2="440.4" y2="554.2" stroke="#141414" stroke-width="1.6" />
<text x="428.9" y="558.6" font-size="12.9" text-anchor="end" font-weight="normal" fill="#141414" stroke="#141414" >1.0</text>
<line x1="434.8" y1="513.1" x2="440.4" y2="513.1" stroke="#141414" stroke-width="1.6" />
<text x="428.9" y="517.5" font-size="12.9" text-anchor="end" font-weight="normal" fill="#141414" stroke="#141414" >1.5</text>
<line x1="434.8" y1="472.1" x2="440.4" y2="472.1" stroke="#141414" stroke-width="1.6" />
<text x="428.9" y="476.5" font-size="12.9" text-anchor="end" font-weight="normal" fill="#141414" stroke="#141414" >2.0</text>
<line x1="434.8" y1="431.1" x2="440.4" y2="431.1" stroke="#141414" stroke-width="1.6" />
<text x="428.9" y="435.5" font-size="12.9" text-anchor="end" font-weight="normal" fill="#141414" stroke="#141414" >2.5</text>
<line x1="455.1" y1="446.9" x2="455.1" y2="470.4" stroke="#141414" stroke-width="1.6" />
<line x1="447.6" y1="446.9" x2="462.6" y2="446.9" stroke="#141414" stroke-width="1.6" />
<rect x="445.3" y="470.4" width="19.7" height="165.8" fill="#fff" stroke="#141414" stroke-width="1.6"/>
<line x1="482.2" y1="547.5" x2="482.2" y2="553.0" stroke="#141414" stroke-width="1.6" />
<line x1="474.8" y1="547.5" x2="489.8" y2="547.5" stroke="#141414" stroke-width="1.6" />
<rect x="472.2" y="553.0" width="20.1" height="83.2" fill="#b9d9b4" stroke="#141414" stroke-width="1.6"/>
<line x1="509.4" y1="546.7" x2="509.4" y2="561.1" stroke="#141414" stroke-width="1.6" />
<line x1="501.9" y1="546.7" x2="517.0" y2="546.7" stroke="#141414" stroke-width="1.6" />
<rect x="499.4" y="561.1" width="20.1" height="75.1" fill="#58a150" stroke="#141414" stroke-width="1.6"/>
<polygon points="482.30,533.60 483.03,535.49 485.06,535.60 483.49,536.89 484.00,538.85 482.30,537.75 480.60,538.85 481.11,536.89 479.54,535.60 481.57,535.49" fill="#111"/>
<polygon points="509.60,532.10 510.33,533.99 512.36,534.10 510.79,535.39 511.30,537.35 509.60,536.25 507.90,537.35 508.41,535.39 506.84,534.10 508.87,533.99" fill="#111"/>
<text x="455.2" y="652.5" font-size="12.9" text-anchor="middle" font-weight="normal" fill="#141414" stroke="#141414" >+/+</text>
<text x="482.4" y="652.5" font-size="12.9" text-anchor="middle" font-weight="normal" fill="#141414" stroke="#141414" >+/−</text>
<text x="509.0" y="652.5" font-size="12.9" text-anchor="middle" font-weight="normal" fill="#141414" stroke="#141414" >−/−</text>
<line x1="445.1" y1="657.8" x2="519.4" y2="657.8" stroke="#141414" stroke-width="1.6" />
<text x="482.2" y="676.2" font-size="12.9" text-anchor="middle" font-weight="normal" fill="#141414" stroke="#141414" >Pyk2</text>
<text transform="translate(397.3,534.4) rotate(-90)" font-size="12.9" text-anchor="middle" fill="#141414" stroke="#141414">Norm. fEPSP slope</text>
<line x1="587.0" y1="431.5" x2="587.0" y2="636.4" stroke="#141414" stroke-width="1.6" />
<line x1="581.4" y1="635.7" x2="670.0" y2="635.7" stroke="#141414" stroke-width="1.6" />
<line x1="581.4" y1="635.7" x2="587.0" y2="635.7" stroke="#141414" stroke-width="1.6" />
<text x="574.5" y="640.1" font-size="12.9" text-anchor="end" font-weight="normal" fill="#141414" stroke="#141414" >0.0</text>
<line x1="581.4" y1="595.0" x2="587.0" y2="595.0" stroke="#141414" stroke-width="1.6" />
<text x="574.5" y="599.4" font-size="12.9" text-anchor="end" font-weight="normal" fill="#141414" stroke="#141414" >0.5</text>
<line x1="581.4" y1="554.3" x2="587.0" y2="554.3" stroke="#141414" stroke-width="1.6" />
<text x="574.5" y="558.7" font-size="12.9" text-anchor="end" font-weight="normal" fill="#141414" stroke="#141414" >1.0</text>
<line x1="581.4" y1="513.6" x2="587.0" y2="513.6" stroke="#141414" stroke-width="1.6" />
<text x="574.5" y="518.0" font-size="12.9" text-anchor="end" font-weight="normal" fill="#141414" stroke="#141414" >1.5</text>
<line x1="581.4" y1="472.9" x2="587.0" y2="472.9" stroke="#141414" stroke-width="1.6" />
<text x="574.5" y="477.3" font-size="12.9" text-anchor="end" font-weight="normal" fill="#141414" stroke="#141414" >2.0</text>
<line x1="581.4" y1="432.2" x2="587.0" y2="432.2" stroke="#141414" stroke-width="1.6" />
<text x="574.5" y="436.6" font-size="12.9" text-anchor="end" font-weight="normal" fill="#141414" stroke="#141414" >2.5</text>
<line x1="600.5" y1="455.9" x2="600.5" y2="474.0" stroke="#141414" stroke-width="1.6" />
<line x1="593.0" y1="455.9" x2="608.0" y2="455.9" stroke="#141414" stroke-width="1.6" />
<rect x="590.8" y="474.0" width="19.5" height="161.7" fill="#fff" stroke="#141414" stroke-width="1.6"/>
<line x1="627.8" y1="524.2" x2="627.8" y2="533.3" stroke="#141414" stroke-width="1.6" />
<line x1="620.3" y1="524.2" x2="635.3" y2="524.2" stroke="#141414" stroke-width="1.6" />
<rect x="618.2" y="533.3" width="19.2" height="102.4" fill="#b9d9b4" stroke="#141414" stroke-width="1.6"/>
<line x1="655.5" y1="528.9" x2="655.5" y2="535.9" stroke="#141414" stroke-width="1.6" />
<line x1="648.0" y1="528.9" x2="663.0" y2="528.9" stroke="#141414" stroke-width="1.6" />
<rect x="645.6" y="535.9" width="19.7" height="99.8" fill="#58a150" stroke="#141414" stroke-width="1.6"/>
<polygon points="627.30,511.30 628.03,513.19 630.06,513.30 628.49,514.59 629.00,516.55 627.30,515.45 625.60,516.55 626.11,514.59 624.54,513.30 626.57,513.19" fill="#111"/>
<polygon points="649.10,515.00 649.83,516.89 651.86,517.00 650.29,518.29 650.80,520.25 649.10,519.15 647.40,520.25 647.91,518.29 646.34,517.00 648.37,516.89" fill="#111"/>
<polygon points="655.70,515.00 656.43,516.89 658.46,517.00 656.89,518.29 657.40,520.25 655.70,519.15 654.00,520.25 654.51,518.29 652.94,517.00 654.97,516.89" fill="#111"/>
<polygon points="662.20,515.00 662.93,516.89 664.96,517.00 663.39,518.29 663.90,520.25 662.20,519.15 660.50,520.25 661.01,518.29 659.44,517.00 661.47,516.89" fill="#111"/>
<text x="600.5" y="650.6" font-size="12.9" text-anchor="middle" font-weight="normal" fill="#141414" stroke="#141414" >+/+</text>
<text x="627.8" y="650.6" font-size="12.9" text-anchor="middle" font-weight="normal" fill="#141414" stroke="#141414" >+/−</text>
<text x="654.6" y="650.6" font-size="12.9" text-anchor="middle" font-weight="normal" fill="#141414" stroke="#141414" >−/−</text>
<line x1="591.2" y1="656.0" x2="664.6" y2="656.0" stroke="#141414" stroke-width="1.6" />
<text x="627.3" y="673.6" font-size="12.9" text-anchor="middle" font-weight="normal" fill="#141414" stroke="#141414" >Pyk2</text>
<text transform="translate(542.2,534.4) rotate(-90)" font-size="12.9" text-anchor="middle" fill="#141414" stroke="#141414">Paired pulse ratio</text>
</g>
</svg>
</body></html>
